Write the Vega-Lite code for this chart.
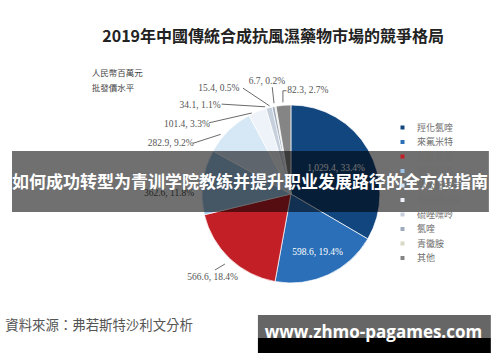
{
  "$schema": "https://vega.github.io/schema/vega-lite/v6.json",
  "width": 500,
  "height": 362,
  "autosize": "none",
  "padding": 0,
  "background": "#ffffff",
  "config": {
    "view": {"stroke": null},
    "legend": {
      "orient": "none",
      "legendX": 398,
      "legendY": 123,
      "padding": 0,
      "symbolType": "square",
      "symbolSize": 16,
      "symbolStrokeWidth": 0,
      "labelFont": "Noto Sans CJK TC",
      "labelFontSize": 9,
      "labelColor": "#6e6e6e",
      "labelOffset": 10,
      "rowPadding": 4.5
    }
  },
  "datasets": {
    "share": [
      {"rank": 1, "name": "羥化氯喹", "value": 1029.4, "label": "1,029.4, 33.4%"},
      {"rank": 2, "name": "來氟米特", "value": 598.6, "label": "598.6, 19.4%"},
      {"rank": 3, "name": "艾拉莫德", "value": 566.6, "label": "566.6, 18.4%"},
      {"rank": 4, "name": "甲氨蝶呤", "value": 362.6, "label": "362.6, 11.8%"},
      {"rank": 5, "name": "雷公藤多苷", "value": 282.9, "label": "282.9, 9.2%"},
      {"rank": 6, "name": "柳氮磺吡啶", "value": 101.4, "label": "101.4, 3.3%"},
      {"rank": 7, "name": "硫唑嘌呤", "value": 34.1, "label": "34.1, 1.1%"},
      {"rank": 8, "name": "氯喹", "value": 15.4, "label": "15.4, 0.5%"},
      {"rank": 9, "name": "青黴胺", "value": 6.7, "label": "6.7, 0.2%"},
      {"rank": 10, "name": "其他", "value": 82.3, "label": "82.3, 2.7%"}
    ],
    "one": [{"k": 1}]
  },
  "data": {"name": "share"},
  "layer": [
    {
      "mark": {"type": "arc", "radius": 89, "stroke": "#ffffff", "strokeWidth": 0.7},
      "encoding": {
        "x": {"datum": 0, "type": "quantitative", "scale": {"domain": [-327, 235], "nice": false, "zero": false}, "axis": null},
        "y": {"datum": 0, "type": "quantitative", "scale": {"domain": [-188.8, 218], "nice": false, "zero": false}, "axis": null},
        "theta": {"field": "value", "type": "quantitative", "stack": true},
        "order": {"field": "rank", "type": "quantitative"},
        "color": {
          "field": "name",
          "type": "nominal",
          "sort": null,
          "scale": {
            "domain": ["羥化氯喹", "來氟米特", "艾拉莫德", "甲氨蝶呤", "雷公藤多苷", "柳氮磺吡啶", "硫唑嘌呤", "氯喹", "青黴胺", "其他"],
            "range": ["#12467f", "#2a6fb8", "#c21f27", "#9dc3e6", "#d6e7f5", "#eef3f9", "#c5d0dc", "#9eabbd", "#d8d8c4", "#858585"]
          },
          "legend": {"title": null}
        }
      }
    },
    {
      "mark": {"type": "text", "radius": 52, "font": "Liberation Serif", "fontSize": 9.5, "color": "#ffffff"},
      "encoding": {
        "x": {"datum": 0, "type": "quantitative", "scale": {"domain": [-327, 235], "nice": false, "zero": false}, "axis": null},
        "y": {"datum": 0, "type": "quantitative", "scale": {"domain": [-188.8, 218], "nice": false, "zero": false}, "axis": null},
        "theta": {"field": "value", "type": "quantitative", "stack": true},
        "order": {"field": "rank", "type": "quantitative"},
        "text": {"condition": {"test": "datum.rank == 1", "field": "label"}, "value": ""}
      }
    },
    {
      "mark": {"type": "text", "radius": 64, "font": "Liberation Serif", "fontSize": 9.5, "color": "#ffffff"},
      "encoding": {
        "x": {"datum": 0, "type": "quantitative", "scale": {"domain": [-327, 235], "nice": false, "zero": false}, "axis": null},
        "y": {"datum": 0, "type": "quantitative", "scale": {"domain": [-188.8, 218], "nice": false, "zero": false}, "axis": null},
        "theta": {"field": "value", "type": "quantitative", "stack": true},
        "order": {"field": "rank", "type": "quantitative"},
        "text": {"condition": {"test": "datum.rank == 2", "field": "label"}, "value": ""}
      }
    },
    {
      "transform": [{"filter": "datum.rank == 3"}],
      "mark": {"type": "text", "font": "Liberation Serif", "fontSize": 9.5, "color": "#555555"},
      "encoding": {
        "x": {"datum": -88, "type": "quantitative", "scale": {"domain": [-327, 235], "nice": false, "zero": false}, "axis": null},
        "y": {"datum": -93, "type": "quantitative", "scale": {"domain": [-188.8, 218], "nice": false, "zero": false}, "axis": null},
        "text": {"field": "label"}
      }
    },
    {
      "transform": [{"filter": "datum.rank == 4"}],
      "mark": {"type": "text", "font": "Liberation Serif", "fontSize": 9.5, "color": "#555555"},
      "encoding": {
        "x": {"datum": -137, "type": "quantitative", "scale": {"domain": [-327, 235], "nice": false, "zero": false}, "axis": null},
        "y": {"datum": 1, "type": "quantitative", "scale": {"domain": [-188.8, 218], "nice": false, "zero": false}, "axis": null},
        "text": {"field": "label"}
      }
    },
    {
      "transform": [{"filter": "datum.rank == 5"}],
      "mark": {"type": "text", "font": "Liberation Serif", "fontSize": 9.5, "color": "#555555"},
      "encoding": {
        "x": {"datum": -135, "type": "quantitative", "scale": {"domain": [-327, 235], "nice": false, "zero": false}, "axis": null},
        "y": {"datum": 57, "type": "quantitative", "scale": {"domain": [-188.8, 218], "nice": false, "zero": false}, "axis": null},
        "text": {"field": "label"}
      }
    },
    {
      "transform": [{"filter": "datum.rank == 6"}],
      "mark": {"type": "text", "font": "Liberation Serif", "fontSize": 9.5, "color": "#555555"},
      "encoding": {
        "x": {"datum": -117, "type": "quantitative", "scale": {"domain": [-327, 235], "nice": false, "zero": false}, "axis": null},
        "y": {"datum": 79, "type": "quantitative", "scale": {"domain": [-188.8, 218], "nice": false, "zero": false}, "axis": null},
        "text": {"field": "label"}
      }
    },
    {
      "transform": [{"filter": "datum.rank == 7"}],
      "mark": {"type": "text", "font": "Liberation Serif", "fontSize": 9.5, "color": "#555555"},
      "encoding": {
        "x": {"datum": -102, "type": "quantitative", "scale": {"domain": [-327, 235], "nice": false, "zero": false}, "axis": null},
        "y": {"datum": 100, "type": "quantitative", "scale": {"domain": [-188.8, 218], "nice": false, "zero": false}, "axis": null},
        "text": {"field": "label"}
      }
    },
    {
      "transform": [{"filter": "datum.rank == 8"}],
      "mark": {"type": "text", "font": "Liberation Serif", "fontSize": 9.5, "color": "#555555"},
      "encoding": {
        "x": {"datum": -81, "type": "quantitative", "scale": {"domain": [-327, 235], "nice": false, "zero": false}, "axis": null},
        "y": {"datum": 119, "type": "quantitative", "scale": {"domain": [-188.8, 218], "nice": false, "zero": false}, "axis": null},
        "text": {"field": "label"}
      }
    },
    {
      "transform": [{"filter": "datum.rank == 9"}],
      "mark": {"type": "text", "font": "Liberation Serif", "fontSize": 9.5, "color": "#555555"},
      "encoding": {
        "x": {"datum": -27, "type": "quantitative", "scale": {"domain": [-327, 235], "nice": false, "zero": false}, "axis": null},
        "y": {"datum": 127, "type": "quantitative", "scale": {"domain": [-188.8, 218], "nice": false, "zero": false}, "axis": null},
        "text": {"field": "label"}
      }
    },
    {
      "transform": [{"filter": "datum.rank == 10"}],
      "mark": {"type": "text", "font": "Liberation Serif", "fontSize": 9.5, "color": "#555555"},
      "encoding": {
        "x": {"datum": 19, "type": "quantitative", "scale": {"domain": [-327, 235], "nice": false, "zero": false}, "axis": null},
        "y": {"datum": 117, "type": "quantitative", "scale": {"domain": [-188.8, 218], "nice": false, "zero": false}, "axis": null},
        "text": {"field": "label"}
      }
    },
    {
      "transform": [{"filter": "datum.rank == 3"}],
      "mark": {"type": "rule", "color": "#444444", "strokeWidth": 0.8},
      "encoding": {
        "x": {"datum": -85.4, "type": "quantitative", "scale": {"domain": [-327, 235], "nice": false, "zero": false}, "axis": null},
        "y": {"datum": -85.4, "type": "quantitative", "scale": {"domain": [-188.8, 218], "nice": false, "zero": false}, "axis": null},
        "x2": {"datum": -74.2},
        "y2": {"datum": -78.7}
      }
    },
    {
      "transform": [{"filter": "datum.rank == 5"}],
      "mark": {"type": "rule", "color": "#444444", "strokeWidth": 0.8},
      "encoding": {
        "x": {"datum": -110, "type": "quantitative", "scale": {"domain": [-327, 235], "nice": false, "zero": false}, "axis": null},
        "y": {"datum": 57, "type": "quantitative", "scale": {"domain": [-188.8, 218], "nice": false, "zero": false}, "axis": null},
        "x2": {"datum": -79},
        "y2": {"datum": 67}
      }
    },
    {
      "transform": [{"filter": "datum.rank == 6"}],
      "mark": {"type": "rule", "color": "#444444", "strokeWidth": 0.8},
      "encoding": {
        "x": {"datum": -92, "type": "quantitative", "scale": {"domain": [-327, 235], "nice": false, "zero": false}, "axis": null},
        "y": {"datum": 80, "type": "quantitative", "scale": {"domain": [-188.8, 218], "nice": false, "zero": false}, "axis": null},
        "x2": {"datum": -44},
        "y2": {"datum": 91}
      }
    },
    {
      "transform": [{"filter": "datum.rank == 7"}],
      "mark": {"type": "rule", "color": "#444444", "strokeWidth": 0.8},
      "encoding": {
        "x": {"datum": -78, "type": "quantitative", "scale": {"domain": [-327, 235], "nice": false, "zero": false}, "axis": null},
        "y": {"datum": 101, "type": "quantitative", "scale": {"domain": [-188.8, 218], "nice": false, "zero": false}, "axis": null},
        "x2": {"datum": -29},
        "y2": {"datum": 98}
      }
    },
    {
      "transform": [{"filter": "datum.rank == 8"}],
      "mark": {"type": "rule", "color": "#444444", "strokeWidth": 0.8},
      "encoding": {
        "x": {"datum": -54, "type": "quantitative", "scale": {"domain": [-327, 235], "nice": false, "zero": false}, "axis": null},
        "y": {"datum": 119, "type": "quantitative", "scale": {"domain": [-188.8, 218], "nice": false, "zero": false}, "axis": null},
        "x2": {"datum": -24},
        "y2": {"datum": 99}
      }
    },
    {
      "transform": [{"filter": "datum.rank == 9"}],
      "mark": {"type": "rule", "color": "#444444", "strokeWidth": 0.8},
      "encoding": {
        "x": {"datum": -21, "type": "quantitative", "scale": {"domain": [-327, 235], "nice": false, "zero": false}, "axis": null},
        "y": {"datum": 120, "type": "quantitative", "scale": {"domain": [-188.8, 218], "nice": false, "zero": false}, "axis": null},
        "x2": {"datum": -19},
        "y2": {"datum": 102}
      }
    },
    {
      "transform": [{"filter": "datum.rank == 10"}],
      "mark": {"type": "rule", "color": "#444444", "strokeWidth": 0.8},
      "encoding": {
        "x": {"datum": -9, "type": "quantitative", "scale": {"domain": [-327, 235], "nice": false, "zero": false}, "axis": null},
        "y": {"datum": 116, "type": "quantitative", "scale": {"domain": [-188.8, 218], "nice": false, "zero": false}, "axis": null},
        "x2": {"datum": -9},
        "y2": {"datum": 103}
      }
    },
    {
      "transform": [{"filter": "datum.rank == 10"}],
      "mark": {"type": "rule", "color": "#444444", "strokeWidth": 0.8},
      "encoding": {
        "x": {"datum": -9, "type": "quantitative", "scale": {"domain": [-327, 235], "nice": false, "zero": false}, "axis": null},
        "y": {"datum": 116, "type": "quantitative", "scale": {"domain": [-188.8, 218], "nice": false, "zero": false}, "axis": null},
        "x2": {"datum": -5},
        "y2": {"datum": 116}
      }
    },
    {
      "data": {"name": "one"},
      "mark": {"type": "text", "text": "2019年中國傳統合成抗風濕藥物市場的競爭格局", "font": "Noto Sans CJK TC", "fontSize": 16, "fontWeight": "bold", "color": "#222222"},
      "encoding": {
        "x": {"datum": -20, "type": "quantitative", "scale": {"domain": [-327, 235], "nice": false, "zero": false}, "axis": null},
        "y": {"datum": 176, "type": "quantitative", "scale": {"domain": [-188.8, 218], "nice": false, "zero": false}, "axis": null}
      }
    },
    {
      "data": {"name": "one"},
      "mark": {"type": "text", "text": "人民幣百萬元", "align": "left", "font": "Noto Sans CJK TC", "fontSize": 8.5, "color": "#444444"},
      "encoding": {
        "x": {"datum": -224, "type": "quantitative", "scale": {"domain": [-327, 235], "nice": false, "zero": false}, "axis": null},
        "y": {"datum": 136, "type": "quantitative", "scale": {"domain": [-188.8, 218], "nice": false, "zero": false}, "axis": null}
      }
    },
    {
      "data": {"name": "one"},
      "mark": {"type": "text", "text": "批發價水平", "align": "left", "font": "Noto Sans CJK TC", "fontSize": 8.5, "color": "#444444"},
      "encoding": {
        "x": {"datum": -224, "type": "quantitative", "scale": {"domain": [-327, 235], "nice": false, "zero": false}, "axis": null},
        "y": {"datum": 119, "type": "quantitative", "scale": {"domain": [-188.8, 218], "nice": false, "zero": false}, "axis": null}
      }
    },
    {
      "data": {"name": "one"},
      "mark": {"type": "text", "text": "資料來源：弗若斯特沙利文分析", "align": "left", "font": "Noto Sans CJK TC", "fontSize": 13.4, "color": "#555555"},
      "encoding": {
        "x": {"datum": -321, "type": "quantitative", "scale": {"domain": [-327, 235], "nice": false, "zero": false}, "axis": null},
        "y": {"datum": -148, "type": "quantitative", "scale": {"domain": [-188.8, 218], "nice": false, "zero": false}, "axis": null}
      }
    },
    {
      "data": {"name": "one"},
      "mark": {"type": "rect", "color": "#000000", "opacity": 0.56},
      "encoding": {
        "x": {"datum": -313.5, "type": "quantitative", "scale": {"domain": [-327, 235], "nice": false, "zero": false}, "axis": null},
        "y": {"datum": 48.3, "type": "quantitative", "scale": {"domain": [-188.8, 218], "nice": false, "zero": false}, "axis": null},
        "x2": {"datum": 222.5},
        "y2": {"datum": -20.2}
      }
    },
    {
      "data": {"name": "one"},
      "mark": {"type": "text", "text": "如何成功转型为青训学院教练并提升职业发展路径的全方位指南", "font": "Noto Sans CJK SC", "fontSize": 17, "fontWeight": "bold", "color": "#ffffff"},
      "encoding": {
        "x": {"datum": -46, "type": "quantitative", "scale": {"domain": [-327, 235], "nice": false, "zero": false}, "axis": null},
        "y": {"datum": 12.4, "type": "quantitative", "scale": {"domain": [-188.8, 218], "nice": false, "zero": false}, "axis": null}
      }
    },
    {
      "data": {"name": "one"},
      "mark": {"type": "rect", "color": "#666666", "opacity": 1},
      "encoding": {
        "x": {"datum": -37.1, "type": "quantitative", "scale": {"domain": [-327, 235], "nice": false, "zero": false}, "axis": null},
        "y": {"datum": -136, "type": "quantitative", "scale": {"domain": [-188.8, 218], "nice": false, "zero": false}, "axis": null},
        "x2": {"datum": 224.7},
        "y2": {"datum": -161.8}
      }
    },
    {
      "data": {"name": "one"},
      "mark": {"type": "rect", "color": "#000000", "opacity": 1},
      "encoding": {
        "x": {"datum": -37.1, "type": "quantitative", "scale": {"domain": [-327, 235], "nice": false, "zero": false}, "axis": null},
        "y": {"datum": -161.8, "type": "quantitative", "scale": {"domain": [-188.8, 218], "nice": false, "zero": false}, "axis": null},
        "x2": {"datum": 224.7},
        "y2": {"datum": -178.7}
      }
    },
    {
      "data": {"name": "one"},
      "mark": {"type": "text", "text": "www.zhmo-pagames.com", "font": "Open Sans", "fontSize": 17, "fontWeight": "bold", "color": "#ffffff"},
      "encoding": {
        "x": {"datum": 92.7, "type": "quantitative", "scale": {"domain": [-327, 235], "nice": false, "zero": false}, "axis": null},
        "y": {"datum": -156, "type": "quantitative", "scale": {"domain": [-188.8, 218], "nice": false, "zero": false}, "axis": null}
      }
    }
  ]
}
